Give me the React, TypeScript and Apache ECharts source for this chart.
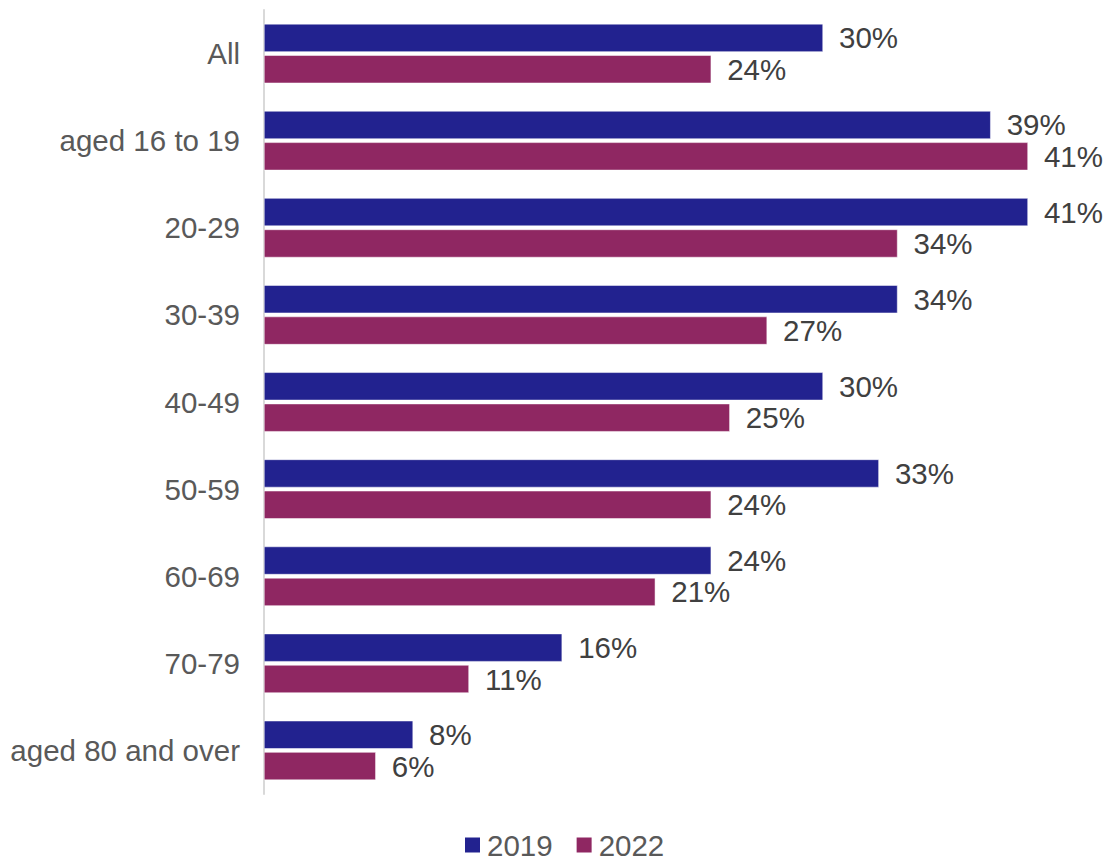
import React, { useEffect, useRef } from "react";
import * as echarts from "echarts";

const categories = [
  "All",
  "aged 16 to 19",
  "20-29",
  "30-39",
  "40-49",
  "50-59",
  "60-69",
  "70-79",
  "aged 80 and over",
];
const values2019 = [30, 39, 41, 34, 30, 33, 24, 16, 8];
const values2022 = [24, 41, 34, 27, 25, 24, 21, 11, 6];
const seriesNames = ["2019", "2022"];

export default function App() {
  const ref = useRef<HTMLDivElement>(null);
  useEffect(() => {
    document.body.style.margin = "0";
    const chart = echarts.init(ref.current!, null, { renderer: "svg" });
    const font = "Liberation Sans, Arial, sans-serif";
    const label = {
      show: true,
      position: "right" as const,
      distance: 16,
      formatter: "{c}%",
      color: "#404040",
      fontSize: 29.5,
      fontFamily: font,
    };
    chart.setOption({
      animation: false,
      grid: { left: 264, top: 10, width: 838.5, height: 784, containLabel: false },
      legend: {
        data: seriesNames,
        left: 463,
        top: 830,
        padding: 0,
        itemWidth: 17,
        itemHeight: 17,
        itemGap: 22,
        icon: "rect",
        textStyle: {
          color: "#595959",
          fontSize: 29.5,
          lineHeight: 30,
          fontFamily: font,
          padding: [0, 0, 0, 1],
        },
      },
      xAxis: {
        type: "value",
        min: 0,
        max: 45,
        show: false,
        splitLine: { show: false },
      },
      yAxis: {
        type: "category",
        data: categories,
        inverse: true,
        axisLine: { show: true, lineStyle: { color: "#D9D9D9", width: 2 } },
        axisTick: { show: false },
        axisLabel: { color: "#595959", fontSize: 29.5, fontFamily: font, margin: 24 },
      },
      series: [
        {
          name: seriesNames[0],
          type: "bar",
          data: values2019,
          barWidth: 28,
          barGap: "12%",
          itemStyle: { color: "#22228F", borderColor: "#FFFFFF", borderWidth: 0.5 },
          label,
        },
        {
          name: seriesNames[1],
          type: "bar",
          data: values2022,
          barWidth: 28,
          barGap: "12%",
          itemStyle: { color: "#8F2762", borderColor: "#FFFFFF", borderWidth: 0.5 },
          label,
        },
      ],
    });
    return () => chart.dispose();
  }, []);
  return <div ref={ref} style={{ width: 1106, height: 861 }} />;
}
